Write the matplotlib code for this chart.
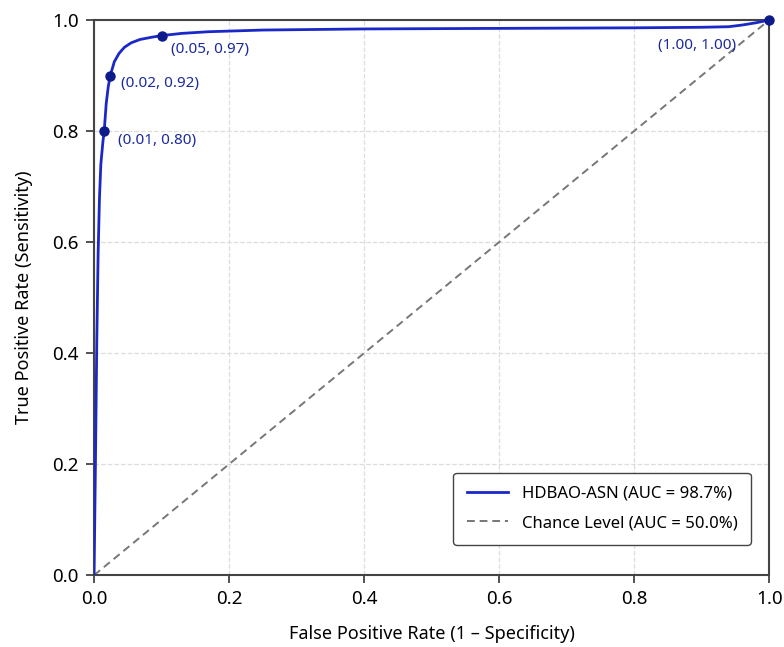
import numpy as np
import matplotlib
matplotlib.use("Agg")
import matplotlib.pyplot as plt

plt.rcParams['font.family'] = ['Noto Sans', 'DejaVu Sans']

# ROC curve
fpr = [0.0, 0.002, 0.004, 0.006, 0.008, 0.010, 0.013, 0.015, 0.018, 0.021, 0.024,
       0.030, 0.037, 0.045, 0.055, 0.068, 0.085, 0.100, 0.130, 0.170, 0.250,
       0.400, 0.600, 0.800, 0.900, 0.940, 0.960, 0.980, 1.0]
tpr = [0.0, 0.20, 0.42, 0.58, 0.68, 0.74, 0.78, 0.80, 0.85, 0.88, 0.90,
       0.925, 0.940, 0.951, 0.959, 0.965, 0.969, 0.972, 0.976, 0.979, 0.982,
       0.984, 0.985, 0.986, 0.987, 0.988, 0.991, 0.995, 1.0]

# marked points and their labels
mark_x = [0.015, 0.024, 0.100, 1.0]
mark_y = [0.80, 0.90, 0.972, 1.0]
mark_labels = ['(0.01, 0.80)', '(0.02, 0.92)', '(0.05, 0.97)', '(1.00, 1.00)']
label_offsets = [(10, -7), (8, -6), (7, -10), (-24, -18)]
label_ha = ['left', 'left', 'left', 'right']

fig, ax = plt.subplots(figsize=(7.84, 6.47), dpi=100)
fig.subplots_adjust(left=0.12, right=0.981, top=0.969, bottom=0.111)

ax.plot(fpr, tpr, color='#1a28c8', lw=2, label='HDBAO-ASN (AUC = 98.7%)', zorder=3)
ax.plot([0, 1], [0, 1], color='#777777', lw=1.4, ls=(0, (4, 2.5)), label='Chance Level (AUC = 50.0%)', zorder=2)
ax.plot(mark_x, mark_y, 'o', color='#0d1a8a', ms=6.5, zorder=4, clip_on=False)

for x, y, t, off, ha in zip(mark_x, mark_y, mark_labels, label_offsets, label_ha):
    ax.annotate(t, (x, y), xytext=off, textcoords='offset points',
                ha=ha, va='center', fontsize=11, color='#1c2aa0')

ax.set_xlim(0, 1)
ax.set_ylim(0, 1)
ax.set_xticks(np.arange(0, 1.01, 0.2))
ax.set_yticks(np.arange(0, 1.01, 0.2))
ax.tick_params(labelsize=13.5, width=1.2, length=6, pad=5, color='#333333')
ax.grid(True, ls='--', color='#dddddd', lw=0.9)
for s in ax.spines.values():
    s.set_color('#444444')
    s.set_linewidth(1.5)

ax.set_xlabel('False Positive Rate (1 \u2013 Specificity)', fontsize=13, labelpad=12)
ax.set_ylabel('True Positive Rate (Sensitivity)', fontsize=13, labelpad=14)

leg = ax.legend(loc='lower right', fontsize=12, frameon=True, fancybox=True,
                borderpad=0.8, labelspacing=0.8, handlelength=2.5,
                bbox_to_anchor=(0.985, 0.04))
leg.get_frame().set_edgecolor('#444444')
leg.get_frame().set_linewidth(1.0)
leg.get_frame().set_alpha(1)

fig.savefig('out.png', dpi=100)
